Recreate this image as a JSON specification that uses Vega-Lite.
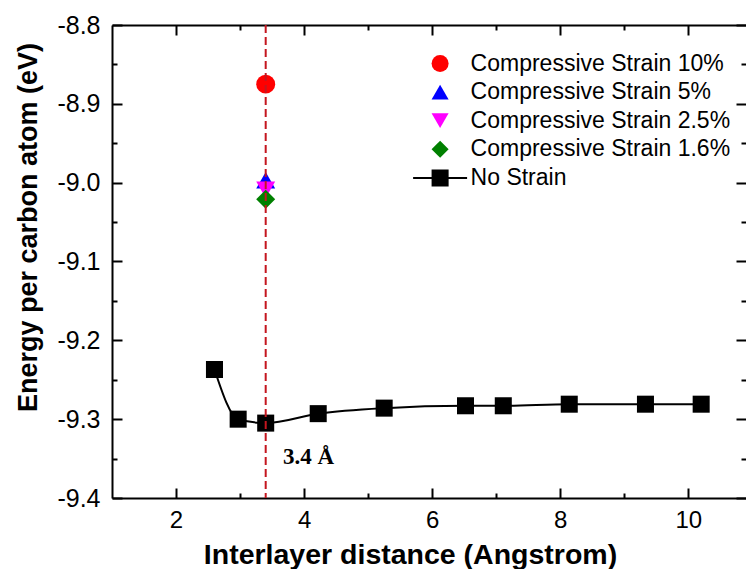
{
  "$schema": "https://vega.github.io/schema/vega-lite/v6.json",
  "width": 634,
  "height": 473,
  "autosize": {"type": "none"},
  "padding": {"left": 112, "top": 25, "right": 0, "bottom": 71},
  "background": "white",
  "config": {
    "view": {"stroke": null},
    "font": "Liberation Sans",
    "axis": {"labelFont": "Liberation Sans", "titleFont": "Liberation Sans", "labelColor": "black", "titleColor": "black", "grid": false, "domainColor": "black", "tickColor": "black", "domainWidth": 2, "tickWidth": 2}
  },
  "datasets": {
    "main": [
      {"series": "Compressive Strain 10%", "d": 3.4, "E": -8.875},
      {"series": "Compressive Strain 5%", "d": 3.4, "E": -8.997},
      {"series": "Compressive Strain 2.5%", "d": 3.4, "E": -9.009},
      {"series": "Compressive Strain 1.6%", "d": 3.4, "E": -9.021},
      {"series": "No Strain", "d": 2.6, "E": -9.237},
      {"series": "No Strain", "d": 2.97, "E": -9.3},
      {"series": "No Strain", "d": 3.4, "E": -9.305},
      {"series": "No Strain", "d": 4.22, "E": -9.293},
      {"series": "No Strain", "d": 5.25, "E": -9.286},
      {"series": "No Strain", "d": 6.52, "E": -9.283},
      {"series": "No Strain", "d": 7.11, "E": -9.283},
      {"series": "No Strain", "d": 8.14, "E": -9.281},
      {"series": "No Strain", "d": 9.33, "E": -9.281},
      {"series": "No Strain", "d": 10.2, "E": -9.281}
    ],
    "marker": [{"d": 3.4}],
    "note": [{"d": 3.67, "E": -9.348, "label": "3.4 Å"}]
  },
  "layer": [
    {
      "data": {"name": "main"},
      "transform": [{"filter": "datum.series !== 'No Strain'"}],
      "mark": {"type": "point", "filled": true, "opacity": 1, "size": 360},
      "encoding": {
        "x": {"field": "d", "type": "quantitative", "scale": {"domain": [1, 10.9], "nice": false, "zero": false}, "axis": null},
        "y": {"field": "E", "type": "quantitative", "scale": {"domain": [-9.4, -8.8], "nice": false, "zero": false}, "axis": null},
        "color": {
          "field": "series", "type": "nominal",
          "scale": {"domain": ["Compressive Strain 10%", "Compressive Strain 5%", "Compressive Strain 2.5%", "Compressive Strain 1.6%", "No Strain"], "range": ["#ff0000", "#0000ff", "#ff00ff", "#008000", "#000000"]},
          "legend": {"orient": "none", "legendX": 316.6, "legendY": 27, "title": null, "padding": 0, "labelFont": "Liberation Sans", "labelFontSize": 23, "labelColor": "black", "labelLimit": 0, "symbolSize": 290, "labelOffset": 19, "rowPadding": 4.6, "symbolStrokeWidth": 0, "symbolOpacity": 1}
        },
        "shape": {
          "field": "series", "type": "nominal",
          "scale": {"domain": ["Compressive Strain 10%", "Compressive Strain 5%", "Compressive Strain 2.5%", "Compressive Strain 1.6%", "No Strain"], "range": ["circle", "triangle-up", "triangle-down", "diamond", "M-3.17,-0.12H-1V-1H1V-0.12H3.17V0.12H1V1H-1V0.12H-3.17Z"]},
          "legend": {"orient": "none", "legendX": 316.6, "legendY": 27, "title": null, "padding": 0, "labelFont": "Liberation Sans", "labelFontSize": 23, "labelColor": "black", "labelLimit": 0, "symbolSize": 290, "labelOffset": 19, "rowPadding": 4.6, "symbolStrokeWidth": 0, "symbolOpacity": 1}
        }
      }
    },
    {
      "data": {"name": "main"},
      "transform": [{"filter": "datum.series === 'No Strain'"}],
      "mark": {"type": "line", "color": "black", "strokeWidth": 2, "interpolate": "monotone"},
      "encoding": {
        "x": {
          "field": "d", "type": "quantitative", "scale": {"domain": [1, 10.9], "nice": false, "zero": false},
          "axis": {
            "orient": "bottom", "values": [2, 3, 4, 5, 6, 7, 8, 9, 10],
            "labelExpr": "datum.value % 2 === 0 ? datum.label : ''",
            "tickSize": {"condition": {"test": "datum.value % 2 === 0", "value": -10}, "value": -5},
            "labelFontSize": 24, "labelPadding": 20,
            "title": "Interlayer distance (Angstrom)", "titleFontSize": 28.5, "titleFontWeight": "bold",
            "titleX": 298, "titleY": 65, "titleBaseline": "alphabetic", "titleAlign": "center"
          }
        },
        "y": {
          "field": "E", "type": "quantitative", "scale": {"domain": [-9.4, -8.8], "nice": false, "zero": false},
          "axis": {
            "orient": "left",
            "values": [-9.4, -9.35, -9.3, -9.25, -9.2, -9.15, -9.1, -9.05, -9.0, -8.95, -8.9, -8.85, -8.8],
            "labelExpr": "abs(round(datum.value * 20)) % 2 === 0 ? '-' + format(abs(datum.value), '.1f') : ''",
            "tickSize": {"condition": {"test": "abs(round(datum.value * 20)) % 2 === 0", "value": -10}, "value": -5},
            "labelFontSize": 25, "labelPadding": 22,
            "title": "Energy per carbon atom (eV)", "titleFontSize": 27, "titleFontWeight": "bold",
            "titleX": -84, "titleY": 202, "titleBaseline": "middle", "titleAlign": "center", "titleAngle": 270
          }
        }
      }
    },
    {
      "data": {"name": "main"},
      "transform": [{"filter": "datum.series === 'No Strain'"}],
      "mark": {"type": "point", "shape": "square", "filled": true, "opacity": 1, "size": 290, "color": "black"},
      "encoding": {
        "x": {
          "field": "d", "type": "quantitative", "scale": {"domain": [1, 10.9], "nice": false, "zero": false},
          "axis": {
            "orient": "top", "values": [2, 3, 4, 5, 6, 7, 8, 9, 10], "labels": false, "title": null,
            "tickSize": {"condition": {"test": "datum.value % 2 === 0", "value": -10}, "value": -5}
          }
        },
        "y": {
          "field": "E", "type": "quantitative", "scale": {"domain": [-9.4, -8.8], "nice": false, "zero": false},
          "axis": {
            "orient": "right", "domain": false, "labels": false, "title": null,
            "values": [-9.4, -9.35, -9.3, -9.25, -9.2, -9.15, -9.1, -9.05, -9.0, -8.95, -8.9, -8.85, -8.8],
            "tickSize": {"condition": {"test": "abs(round(datum.value * 20)) % 2 === 0", "value": -10}, "value": -5}
          }
        }
      }
    },
    {
      "data": {"name": "marker"},
      "mark": {"type": "rule", "color": "#c4161f", "strokeWidth": 2, "strokeDash": [8, 4]},
      "encoding": {
        "x": {"field": "d", "type": "quantitative", "scale": {"domain": [1, 10.9], "nice": false, "zero": false}, "axis": null}
      }
    },
    {
      "data": {"name": "note"},
      "mark": {"type": "text", "font": "Liberation Serif", "fontWeight": "bold", "fontSize": 23, "align": "left", "baseline": "middle", "color": "black"},
      "encoding": {
        "x": {"field": "d", "type": "quantitative", "scale": {"domain": [1, 10.9], "nice": false, "zero": false}, "axis": null},
        "y": {"field": "E", "type": "quantitative", "scale": {"domain": [-9.4, -8.8], "nice": false, "zero": false}, "axis": null},
        "text": {"field": "label"}
      }
    }
  ],
  "resolve": {"axis": {"x": "independent", "y": "independent"}}
}
